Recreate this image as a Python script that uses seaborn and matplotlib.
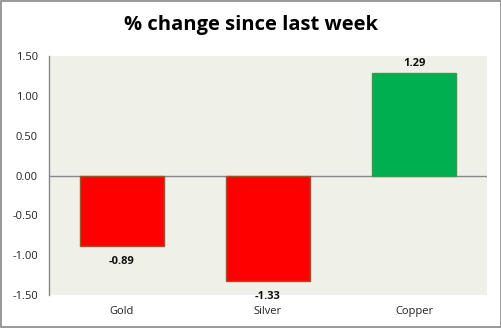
import matplotlib
matplotlib.use("Agg")
import matplotlib.pyplot as plt
import seaborn as sns
import pandas as pd
from matplotlib.patches import Rectangle

categories = ["Gold", "Silver", "Copper"]
values = [-0.89, -1.33, 1.29]
tick_values = [1.50, 1.00, 0.50, 0.00, -0.50, -1.00, -1.50]

sns.set_theme(style="white")
plt.rcParams['font.family'] = ['Open Sans', 'DejaVu Sans']

df = pd.DataFrame({"metal": categories, "change": values})
colors = ["#FF0000" if v < 0 else "#00B050" for v in values]
edges = ["#A0522D" if v < 0 else "#3C9A50" for v in values]

fig = plt.figure(figsize=(5.02, 3.28), dpi=100)
fig.patch.set_facecolor("white")
ax = fig.add_axes([49/502, 1-295/328, (487-49)/502, (295-56)/328])
sns.barplot(data=df, x="metal", y="change", hue="metal", palette=colors,
            legend=False, width=0.57, ax=ax, saturation=1)
for p, ec in zip(ax.patches, edges):
    p.set_edgecolor(ec)
    p.set_linewidth(1)

ax.set_facecolor("#EFF0E8")
ax.set_ylim(-1.5, 1.5)
ax.set_xlim(-0.5, 2.5)
ax.set_yticks(tick_values)
ax.set_yticklabels([f"{t:.2f}" for t in tick_values], fontsize=8, color="#222222")
ax.set_xticks(range(len(categories)))
ax.set_xticklabels(categories, fontsize=8, color="#222222")
ax.tick_params(axis="y", length=0, pad=8)
ax.tick_params(axis="x", length=0, pad=8)
ax.set_xlabel("")
ax.set_ylabel("")
for s in ["top", "right", "bottom"]:
    ax.spines[s].set_visible(False)
ax.spines["left"].set_color("#888888")
ax.spines["left"].set_linewidth(1)
ax.axhline(0, color="#888888", linewidth=1, zorder=0.5)

for i, v in enumerate(values):
    if v < 0:
        ax.annotate(f"{v:.2f}", (i, v), xytext=(0, -7), textcoords="offset points",
                    ha="center", va="top", fontsize=8, fontweight="bold", color="#111111")
    else:
        ax.annotate(f"{v:.2f}", (i, v), xytext=(0, 3), textcoords="offset points",
                    ha="center", va="bottom", fontsize=8, fontweight="bold", color="#111111")

fig.text(0.5, 1-25/328, "% change since last week", ha="center", va="center",
         fontsize=14.5, fontweight="bold", color="black")
fig.add_artist(Rectangle((0.001, 0.002), 0.997, 0.995, transform=fig.transFigure,
                         fill=False, edgecolor="#888888", linewidth=1.2))
fig.savefig("out.png", dpi=100, facecolor="white")
